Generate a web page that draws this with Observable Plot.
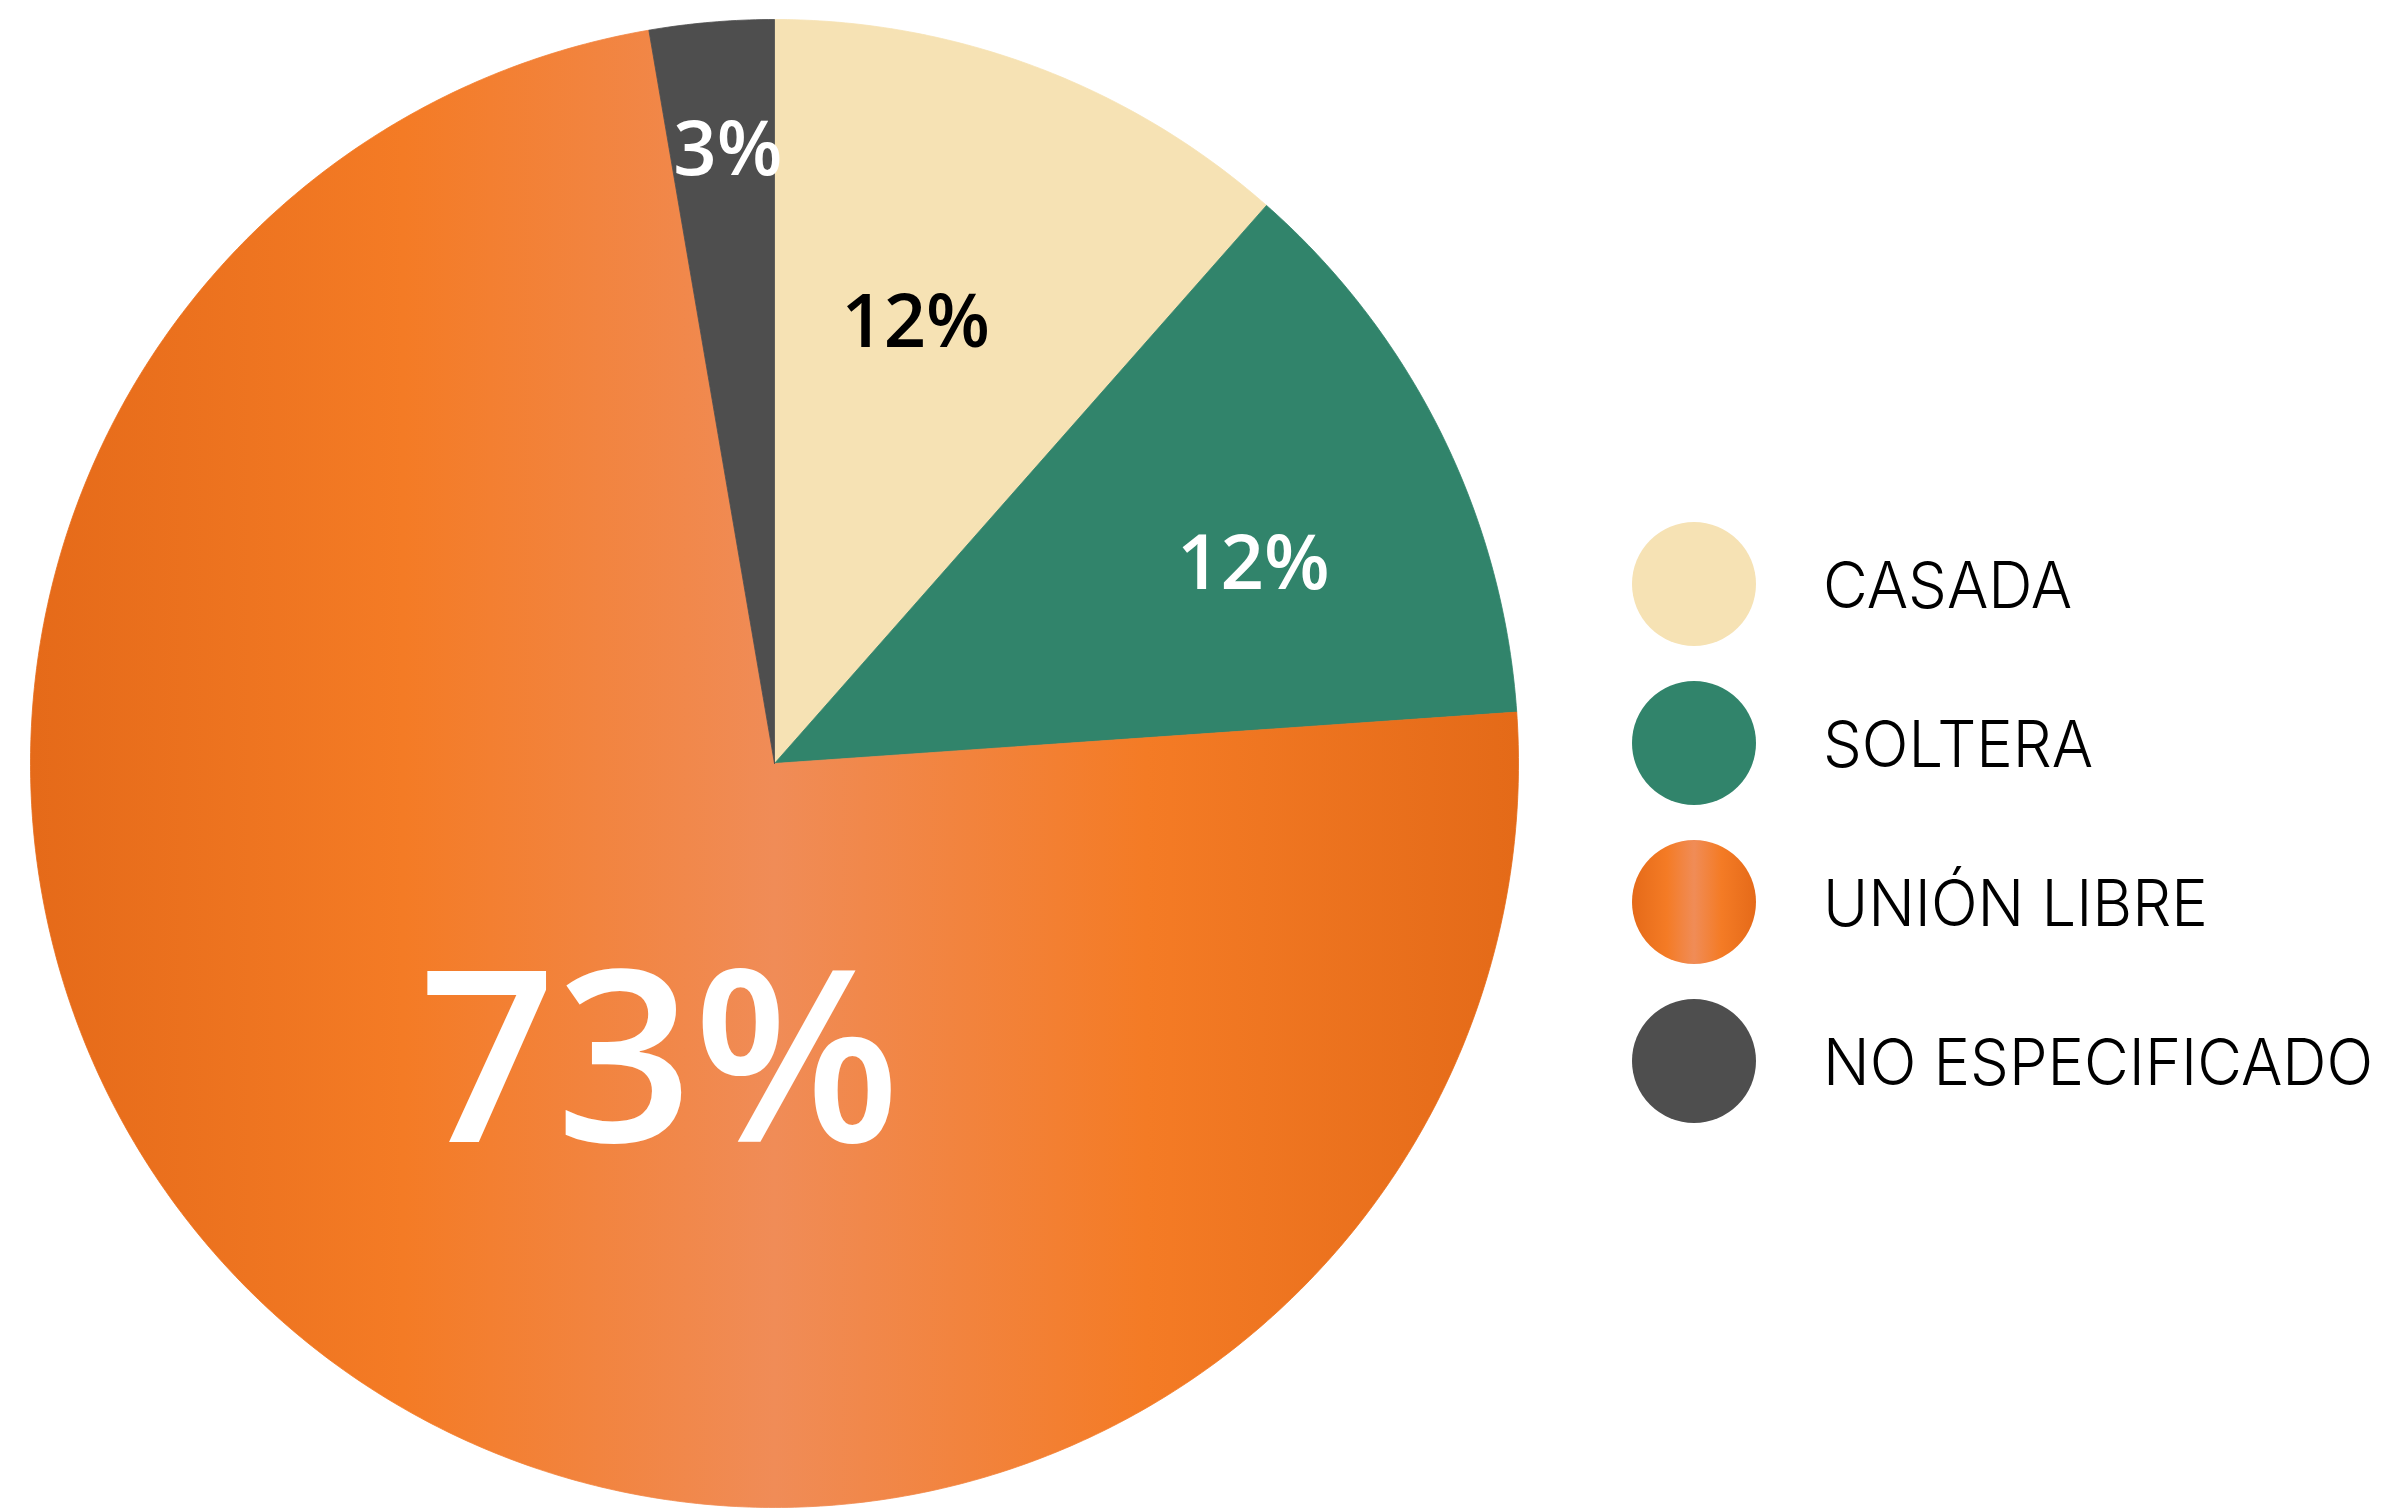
<!DOCTYPE html>
<html><head><meta charset="utf-8">
<script src="https://cdn.jsdelivr.net/npm/d3@7"></script>
<script src="https://cdn.jsdelivr.net/npm/@observablehq/plot@0.6"></script>
<style>
body{margin:0;background:#fff;}
#wrap{position:relative;width:2404px;height:1509px;overflow:hidden;}
#chart{position:absolute;left:0;top:0;}
#legend{position:absolute;left:1632px;top:522px;display:flex;flex-direction:column;gap:35px;}
.row{display:flex;align-items:center;height:124px;}
.sw{width:124px;height:124px;border-radius:50%;flex:none;}
.lab{margin-left:67px;font-family:Inter,"Noto Sans",sans-serif;font-weight:300;font-size:64px;transform:scaleX(0.96);transform-origin:left center;white-space:nowrap;color:#000;}
</style></head>
<body><div id="wrap"><div id="chart"></div><div id="legend"></div></div>
<script>
// Data
const categories = ["CASADA", "SOLTERA", "UNIÓN LIBRE", "NO ESPECIFICADO"];
const values = [11.5, 12.4, 73.4, 2.7];
const labels = ["12%", "12%", "73%", "3%"];

// Styling / layout
const colors = ["#F6E2B4", "#31846B", "url(#unionGrad)", "#4E4E4E"];
const legendBg = ["#F6E2B4", "#31846B",
  "linear-gradient(to right,#E56A19 0%,#F47B25 28%,#F08C57 50%,#F47B25 72%,#E56A19 100%)", "#4E4E4E"];
const labelColors = ["#000", "#fff", "#fff", "#fff"];
const labelSizes = [74, 76, 240, 76];
const labelRadius = [0.621, 0.697, 0.434, 0.826];
const labelShift = [-2.9, 3.7, -17.3, 0.5]; // degrees from slice middle

const rows = categories.map((c, i) => ({cat: c, value: values[i], label: labels[i], i}));
const arcs = d3.pie().value(d => d.value).sort(null)(rows);

// polygon points for each slice, computed from the pie angles
const slicePts = arcs.map(a => {
  const n = Math.max(8, Math.ceil((a.endAngle - a.startAngle) / (Math.PI / 360)));
  const pts = [{x: 0, y: 0}];
  for (let k = 0; k <= n; k++) {
    const t = a.startAngle + (a.endAngle - a.startAngle) * k / n;
    pts.push({x: Math.sin(t), y: Math.cos(t)});
  }
  pts.push({x: 0, y: 0});
  return pts;
});

const labelPts = arcs.map((a, i) => {
  const t = (a.startAngle + a.endAngle) / 2 + labelShift[i] * Math.PI / 180;
  return {x: labelRadius[i] * Math.sin(t), y: labelRadius[i] * Math.cos(t),
          label: a.data.label, color: labelColors[i], size: labelSizes[i]};
});

const svg = Plot.plot({
  width: 1548, height: 1509,
  marginLeft: 30, marginRight: 30, marginTop: 19, marginBottom: 2,
  x: {domain: [-1, 1], axis: null},
  y: {domain: [-1, 1], axis: null},
  style: {background: "transparent", overflow: "visible"},
  marks: [
    ...slicePts.map((pts, i) => Plot.line(pts, {x: "x", y: "y", fill: colors[i], stroke: colors[i], strokeWidth: 0.8, curve: "linear"})),
    Plot.text(labelPts, {x: "x", y: "y", text: "label", fill: d => d.color, fontSize: d => d.size,
      fontFamily: "'Open Sans', sans-serif", fontWeight: 600, textAnchor: "middle", lineAnchor: "middle"})
  ]
});

// gradient definition for the orange slice
const defs = d3.select(svg).insert("defs", ":first-child");
const g = defs.append("linearGradient").attr("id", "unionGrad")
  .attr("x1", 0).attr("x2", 1).attr("y1", 0).attr("y2", 0);
[[0, "#E56A19"], [0.25, "#F47B25"], [0.5, "#F08C57"], [0.75, "#F47B25"], [1, "#E46A18"]]
  .forEach(([o, c]) => g.append("stop").attr("offset", o).attr("stop-color", c));

document.getElementById("chart").appendChild(svg);

const legend = d3.select("#legend");
categories.forEach((c, i) => {
  const r = legend.append("div").attr("class", "row");
  r.append("div").attr("class", "sw").style("background", legendBg[i]);
  r.append("div").attr("class", "lab").text(c);
});
</script>
</body></html>
